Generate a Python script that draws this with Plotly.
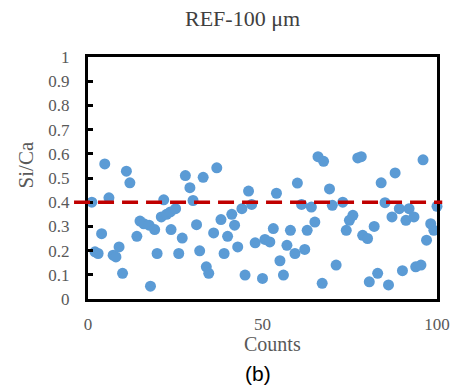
import plotly.graph_objects as go

counts = [1.1, 2.0, 2.9, 3.9, 4.8, 6.0, 7.2, 8.0, 8.9, 9.9,
          11.0, 12.0, 14.0, 14.9, 16.0, 17.5, 17.9, 19.1, 19.8, 21.0,
          21.7, 22.5, 23.6, 23.8, 25.1, 26.0, 27.0, 27.9, 29.2, 30.1,
          31.1, 32.0, 33.0, 33.9, 34.6, 36.0, 36.9, 38.1, 39.0, 40.0,
          41.2, 42.0, 42.9, 44.1, 45.0, 46.0, 46.9, 47.9, 50.0, 50.7,
          52.1, 53.1, 54.0, 55.0, 56.0, 57.0, 58.0, 59.3, 60.0, 61.2,
          62.1, 62.8, 64.0, 65.0, 65.9, 67.1, 67.5, 69.2, 70.0, 71.1,
          73.0, 74.0, 74.9, 75.9, 77.3, 78.3, 78.7, 80.1, 80.6, 82.0,
          83.0, 84.0, 85.1, 86.1, 87.1, 88.0, 89.2, 90.1, 91.1, 92.0,
          93.4, 93.9, 95.4, 96.0, 97.0, 98.2, 99.1, 100.0]
si_ca = [0.40, 0.195, 0.188, 0.27, 0.558, 0.418, 0.181, 0.174, 0.215, 0.106,
         0.528, 0.48, 0.259, 0.322, 0.311, 0.305, 0.053, 0.287, 0.188, 0.339,
         0.41, 0.35, 0.36, 0.287, 0.373, 0.188, 0.252, 0.51, 0.46, 0.407,
         0.307, 0.199, 0.503, 0.133, 0.106, 0.273, 0.542, 0.328, 0.188, 0.259,
         0.35, 0.305, 0.215, 0.373, 0.099, 0.446, 0.391, 0.232, 0.085, 0.246,
         0.236, 0.291, 0.437, 0.158, 0.099, 0.222, 0.284, 0.188, 0.479, 0.391,
         0.205, 0.284, 0.38, 0.318, 0.588, 0.065, 0.569, 0.455, 0.387, 0.14,
         0.40, 0.284, 0.325, 0.346, 0.583, 0.588, 0.263, 0.25, 0.071, 0.30,
         0.106, 0.48, 0.398, 0.058, 0.339, 0.521, 0.373, 0.117, 0.325, 0.373,
         0.339, 0.133, 0.14, 0.575, 0.243, 0.311, 0.284, 0.383]
threshold = 0.4
x_ticks = [0, 50, 100]

serif = "Liberation Serif"
grey = "#595959"

fig = go.Figure()
fig.add_trace(go.Scatter(
    x=counts, y=si_ca, mode="markers",
    marker=dict(color="#5B9BD5", size=11),
    cliponaxis=False, showlegend=False,
))

fig.add_shape(type="line", xref="x domain", yref="y",
              x0=-0.04, x1=1.015, y0=threshold, y1=threshold,
              line=dict(color="#C00000", width=3.5, dash="16px,8px"),
              layer="above")

fig.update_layout(
    width=451, height=389,
    margin=dict(l=88, r=14, t=57, b=90, autoexpand=False),
    plot_bgcolor="white", paper_bgcolor="white",
    font=dict(family=serif, color=grey, size=17),
    showlegend=False,
)
fig.update_xaxes(
    range=[0, 100], tickvals=x_ticks, ticks="", automargin=False,
    showline=True, mirror=True, linecolor="black", linewidth=3,
    showgrid=False, zeroline=False, ticklabelstandoff=8,
    tickfont=dict(family=serif, size=17, color=grey),
)
fig.update_yaxes(
    range=[0, 1], dtick=0.1, ticks="inside", ticklen=5, tickwidth=3,
    tickcolor="black", automargin=False,
    showline=True, mirror=True, linecolor="black", linewidth=3,
    showgrid=False, zeroline=False, ticklabelstandoff=12,
    tickfont=dict(family=serif, size=17, color=grey),
)

ann = dict(xref="paper", yref="paper", showarrow=False,
           xanchor="center", yanchor="middle")
fig.add_annotation(text="REF-100 μm", x=0.444, y=1.16,
                   font=dict(family=serif, size=22, color="#404040"), **ann)
fig.add_annotation(text="Counts", x=0.53, y=-0.184,
                   font=dict(family=serif, size=20, color=grey), **ann)
fig.add_annotation(text="Si/Ca", x=-0.177, y=0.553, textangle=-90,
                   font=dict(family=serif, size=21, color=grey), **ann)
fig.add_annotation(text="(b)", x=0.487, y=-0.307,
                   font=dict(family="Liberation Sans", size=21, color="black"), **ann)

fig.write_html("out.html")
